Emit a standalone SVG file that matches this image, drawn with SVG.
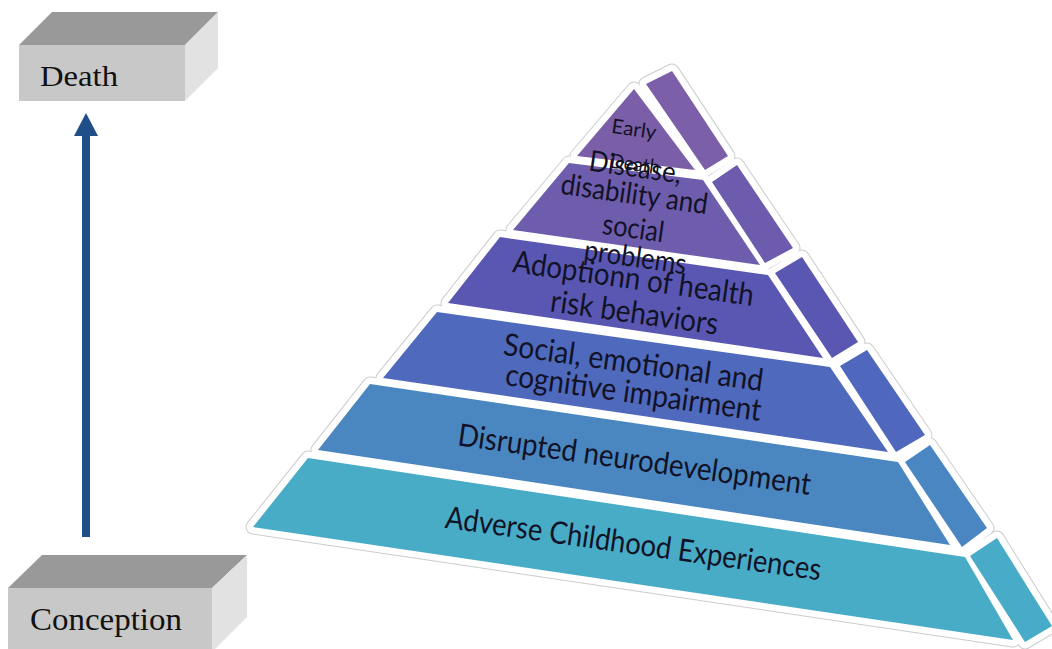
<svg xmlns="http://www.w3.org/2000/svg" width="1052" height="649" viewBox="0 0 1052 649">
  <defs>
    <style>
      .box-top { fill: #999999; }
      .box-front { fill: #c8c8c8; }
      .box-side { fill: #e2e2e2; }
      .box-label { font-family: "Liberation Serif", "DejaVu Serif", serif; fill: #111111; }
      .halo polygon { fill: #ffffff; stroke: #cccccc; stroke-width: 15; stroke-linejoin: round; }
      .gap polygon { fill: #ffffff; stroke: #ffffff; stroke-width: 13; stroke-linejoin: round; }
      .tier-label { font-family: Lato, "Open Sans", "Liberation Sans", sans-serif; fill: #121226; text-anchor: middle; }
    </style>
  </defs>

  <!-- Life-course boxes -->
  <g id="death">
    <polygon class="box-top" points="19,45 52,12 218,12 185,45"/>
    <polygon class="box-side" points="185,45 218,12 218,68 185,101"/>
    <rect class="box-front" x="19" y="45" width="166" height="56"/>
    <text class="box-label" x="40" y="86" font-size="30" textLength="78" lengthAdjust="spacingAndGlyphs">Death</text>
  </g>

  <g id="conception">
    <polygon class="box-top" points="8,588 42,555 247,555 212,588"/>
    <polygon class="box-side" points="212,588 247,555 247,617 212,652"/>
    <rect class="box-front" x="8" y="588" width="204" height="64"/>
    <text class="box-label" x="30" y="630" font-size="32" textLength="152" lengthAdjust="spacingAndGlyphs">Conception</text>
  </g>

  <!-- Timeline arrow -->
  <g id="connectors">
    <path d="M86,537 V130" stroke="#1f4e88" stroke-width="8" fill="none"/>
    <path d="M86,113 L98,136 L74,136 Z" fill="#1f4e88"/>
  </g>

  <!-- Pyramid -->
  <g id="pyramid">
    <g class="halo">
      <polygon points="634,89 695,170 577,156"/>
      <polygon points="569,163 703,180 760,265 513,230"/>
      <polygon points="500,237 768,275 823,358 448,303"/>
      <polygon points="437,312 830,367 888,452 383,378"/>
      <polygon points="370,384 898,462 950,545 318,450"/>
      <polygon points="308,458 965,557 1013,640 253,527"/>
      <polygon points="646,84 672,71 728,156 705,170"/>
      <polygon points="712,182 737,165 793,248 765,263"/>
      <polygon points="775,273 802,257 858,342 832,358"/>
      <polygon points="840,366 867,350 925,435 896,452"/>
      <polygon points="905,462 930,445 987,528 962,547"/>
      <polygon points="970,556 997,538 1052,626 1025,642"/>
    </g>
    <g class="gap">
      <polygon points="634,89 695,170 577,156"/>
      <polygon points="569,163 703,180 760,265 513,230"/>
      <polygon points="500,237 768,275 823,358 448,303"/>
      <polygon points="437,312 830,367 888,452 383,378"/>
      <polygon points="370,384 898,462 950,545 318,450"/>
      <polygon points="308,458 965,557 1013,640 253,527"/>
      <polygon points="646,84 672,71 728,156 705,170"/>
      <polygon points="712,182 737,165 793,248 765,263"/>
      <polygon points="775,273 802,257 858,342 832,358"/>
      <polygon points="840,366 867,350 925,435 896,452"/>
      <polygon points="905,462 930,445 987,528 962,547"/>
      <polygon points="970,556 997,538 1052,626 1025,642"/>
    </g>

    <g id="tier-early-death">
      <polygon points="634,89 695,170 577,156" fill="#7b5ea8"/>
      <polygon points="646,84 672,71 728,156 705,170" fill="#7c5fa9"/>
    </g>
    <g id="tier-disease">
      <polygon points="569,163 703,180 760,265 513,230" fill="#6e5cad"/>
      <polygon points="712,182 737,165 793,248 765,263" fill="#6d5bad"/>
    </g>
    <g id="tier-risk-behaviors">
      <polygon points="500,237 768,275 823,358 448,303" fill="#5a57b3"/>
      <polygon points="775,273 802,257 858,342 832,358" fill="#5a57b3"/>
    </g>
    <g id="tier-impairment">
      <polygon points="437,312 830,367 888,452 383,378" fill="#4f69bd"/>
      <polygon points="840,366 867,350 925,435 896,452" fill="#4f68bd"/>
    </g>
    <g id="tier-neurodevelopment">
      <polygon points="370,384 898,462 950,545 318,450" fill="#4a87c1"/>
      <polygon points="905,462 930,445 987,528 962,547" fill="#4a86c1"/>
    </g>
    <g id="tier-ace">
      <polygon points="308,458 965,557 1013,640 253,527" fill="#48acc7"/>
      <polygon points="970,556 997,538 1052,626 1025,642" fill="#48abc7"/>
    </g>

    <!-- Tier labels, tilted with the pyramid -->
    <g id="tier-labels">
      <text class="tier-label" font-size="20" transform="rotate(8 633 136)" x="633" y="136" textLength="45" lengthAdjust="spacingAndGlyphs">Early</text>
      <text class="tier-label" font-size="20" transform="rotate(8 634 171)" x="634" y="171" textLength="50" lengthAdjust="spacingAndGlyphs">Death</text>
      <text class="tier-label" font-size="29" transform="rotate(8 634 177)" x="634" y="177" textLength="93" lengthAdjust="spacingAndGlyphs">Disease,</text>
      <text class="tier-label" font-size="29" transform="rotate(8 633 204)" x="633" y="204" textLength="148" lengthAdjust="spacingAndGlyphs">disability and</text>
      <text class="tier-label" font-size="29" transform="rotate(8 632 238)" x="632" y="238" textLength="62" lengthAdjust="spacingAndGlyphs">social</text>
      <text class="tier-label" font-size="29" transform="rotate(8 634 267)" x="634" y="267" textLength="103" lengthAdjust="spacingAndGlyphs">problems</text>
      <text class="tier-label" font-size="31" transform="rotate(8 632 289)" x="632" y="289" textLength="243" lengthAdjust="spacingAndGlyphs">Adoptionn of health</text>
      <text class="tier-label" font-size="31" transform="rotate(8 633 323)" x="633" y="323" textLength="169" lengthAdjust="spacingAndGlyphs">risk behaviors</text>
      <text class="tier-label" font-size="31" transform="rotate(8 632 373)" x="632" y="373" textLength="262" lengthAdjust="spacingAndGlyphs">Social, emotional and</text>
      <text class="tier-label" font-size="31" transform="rotate(8 632 403)" x="632" y="403" textLength="258" lengthAdjust="spacingAndGlyphs">cognitive impairment</text>
      <text class="tier-label" font-size="31" transform="rotate(8 633 470)" x="633" y="470" textLength="356" lengthAdjust="spacingAndGlyphs">Disrupted neurodevelopment</text>
      <text class="tier-label" font-size="31" transform="rotate(8 632 554)" x="632" y="554" textLength="379" lengthAdjust="spacingAndGlyphs">Adverse Childhood Experiences</text>
    </g>
  </g>
</svg>
